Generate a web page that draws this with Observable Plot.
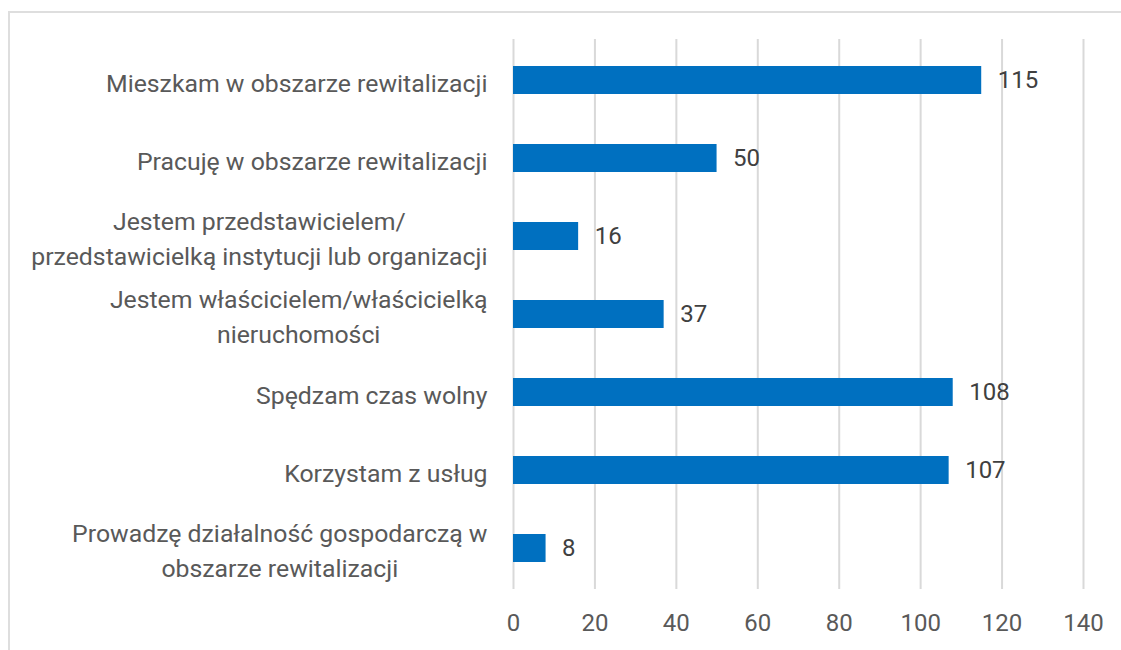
<!DOCTYPE html>
<html>
<head>
<meta charset="utf-8">
<script src="https://cdn.jsdelivr.net/npm/d3@7"></script>
<script src="https://cdn.jsdelivr.net/npm/@observablehq/plot@0.6"></script>
<style>
  html, body { margin: 0; padding: 0; background: #fff; overflow: hidden; }
  #wrap { position: relative; width: 1121px; height: 650px; }
  #border { position: absolute; left: 8px; top: 11px; width: 1200px; height: 700px;
            border-left: 2px solid #dedede; border-top: 2px solid #dedede; box-sizing: border-box; }
  #chart { position: absolute; left: 0; top: 0; }
</style>
</head>
<body>
<div id="wrap"><div id="border"></div><div id="chart"></div></div>
<script>
const categories = [
  "Mieszkam w obszarze rewitalizacji",
  "Pracuję w obszarze rewitalizacji",
  "Jestem przedstawicielem/\nprzedstawicielką instytucji lub organizacji",
  "Jestem właścicielem/właścicielką\nnieruchomości",
  "Spędzam czas wolny",
  "Korzystam z usług",
  "Prowadzę działalność gospodarczą w\nobszarze rewitalizacji"
];
const values = [115, 50, 16, 37, 108, 107, 8];
const xTicks = [0, 20, 40, 60, 80, 100, 120, 140];

const data = categories.map((c, i) => ({category: c, value: values[i]}));
const font = "Roboto, 'Liberation Sans', sans-serif";

const chart = Plot.plot({
  width: 1121,
  height: 650,
  marginTop: 39,
  marginBottom: 61,
  marginLeft: 513,
  marginRight: 38,
  style: {fontFamily: font, fontSize: "24px", background: "transparent"},
  x: {domain: [0, 140], ticks: xTicks},
  y: {domain: categories, paddingInner: 0.64, paddingOuter: 0.32},
  marks: [
    Plot.gridX(xTicks, {stroke: "#d9d9d9", strokeOpacity: 1, strokeWidth: 2}),
    Plot.barX(data, {x: "value", y: "category", fill: "#0070C0"}),
    Plot.text(data, {x: "value", y: "category", text: d => String(d.value),
      textAnchor: "start", dx: 16, fill: "#404040", fontSize: 24}),
    Plot.axisX({ticks: xTicks, tickSize: 0, tickPadding: 24, fill: "#595959", fontSize: 24, label: null}),
    Plot.axisY({tickSize: 0, tickPadding: 26, fill: "#595959", fontSize: 24.8, lineHeight: 1.42,
      textAnchor: "end", label: null})
  ]
});
document.getElementById("chart").appendChild(chart);

// Centre the lines of multi-line category labels inside a right-aligned block (as in the original)
chart.querySelectorAll('g[aria-label="y-axis tick label"] text').forEach(t => {
  const spans = t.querySelectorAll("tspan");
  if (spans.length < 2) return;
  let w = 0;
  spans.forEach(s => { w = Math.max(w, s.getComputedTextLength()); });
  t.setAttribute("text-anchor", "middle");
  spans.forEach(s => s.setAttribute("x", String(-w / 2)));
});
</script>
</body>
</html>
